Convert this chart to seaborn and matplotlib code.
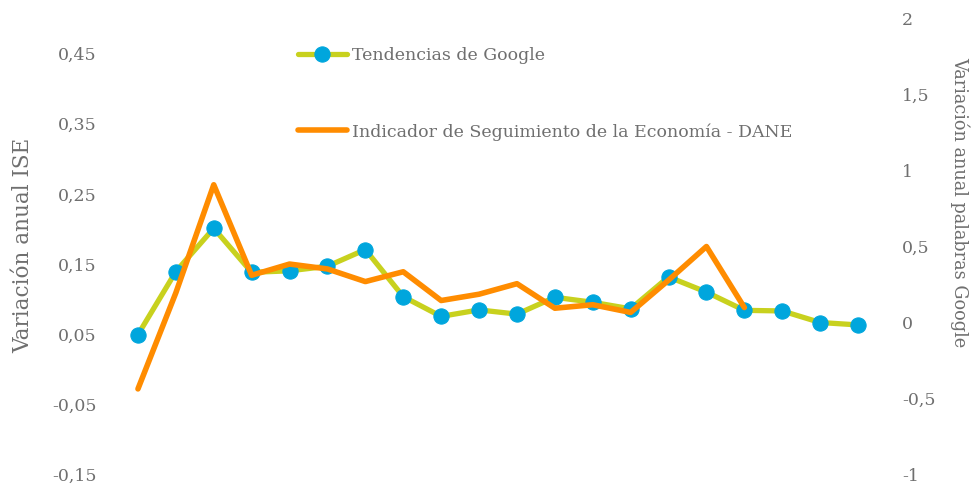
import numpy as np
import pandas as pd
import matplotlib
matplotlib.use("Agg")
import matplotlib.pyplot as plt
import seaborn as sns

# values
periodo = list(range(20))
google = [-0.08, 0.335, 0.62, 0.33, 0.34, 0.37, 0.48, 0.17, 0.04, 0.083,
          0.055, 0.166, 0.133, 0.09, 0.30, 0.20, 0.08, 0.076, 0.0, -0.016]
ise = [-0.028, 0.109, 0.263, 0.134, 0.15, 0.143, 0.125, 0.139, 0.098, 0.107,
       0.122, 0.087, 0.092, 0.081, 0.127, 0.175, 0.088]

left_ticks = [-0.15, -0.05, 0.05, 0.15, 0.25, 0.35, 0.45]
right_ticks = [-1, -0.5, 0, 0.5, 1, 1.5, 2]

gris = "#6f6f6f"
verde = "#c8d11e"
azul = "#00a6dd"
naranja = "#ff8c00"

sns.set_style("white")
plt.rcParams["font.family"] = ["DejaVu Serif"]
plt.rcParams["font.size"] = 12.5

googleDF = pd.DataFrame({"periodo": periodo, "valor": google})
iseDF = pd.DataFrame({"periodo": periodo[:len(ise)], "valor": ise})

fig = plt.figure(figsize=(9.72, 4.87), dpi=100)
ax = fig.add_axes([119 / 972, 1 - 474.5 / 487, (877 - 119) / 972, (474.5 - 18.5) / 487])
ax2 = ax.twinx()

sns.lineplot(data=googleDF, x="periodo", y="valor", ax=ax2, color=verde,
             linewidth=3.8, marker="o", markersize=11, markerfacecolor=azul,
             markeredgecolor=azul, label="Tendencias de Google")
sns.lineplot(data=iseDF, x="periodo", y="valor", ax=ax, color=naranja,
             linewidth=4, label="Indicador de Seguimiento de la Economía - DANE")

# ISE line on top of the Google line
ax.set_zorder(ax2.get_zorder() + 1)
ax.patch.set_visible(False)

ax.set_xlim(-0.5, 19.5)
ax.set_ylim(-0.15, 0.5)
ax2.set_ylim(-1, 2)
ax.set_yticks(left_ticks)
ax.set_yticklabels([f"{t:.2f}".replace(".", ",") for t in left_ticks])
ax2.set_yticks(right_ticks)
ax2.set_yticklabels([("%g" % t).replace(".", ",") for t in right_ticks])
ax.set_xticks([])
ax.set_xlabel("")
ax.set_ylabel("")
ax2.set_ylabel("")
ax.tick_params(axis="y", length=0, pad=16, labelcolor=gris)
ax2.tick_params(axis="y", length=0, pad=18, labelcolor=gris)
for a in (ax, ax2):
    for s in a.spines.values():
        s.set_visible(False)

fig.text(23 / 972, 1 - 245 / 487, "Variación anual ISE", rotation=90,
         ha="center", va="center", color=gris, fontsize=15.5)
fig.text(960 / 972, 1 - 202 / 487, "Variación anual palabras Google", rotation=270,
         ha="center", va="center", color=gris, fontsize=12.8)

h2, l2 = ax2.get_legend_handles_labels()
h1, l1 = ax.get_legend_handles_labels()
ax2.get_legend().remove()
ax.get_legend().remove()
leg = ax.legend(h2 + h1, l2 + l1, loc="upper left", frameon=False,
                bbox_to_anchor=(298 / 972, 1 - 47 / 487),
                bbox_transform=fig.transFigure, borderpad=0, borderaxespad=0,
                handlelength=2.8, handletextpad=0.3, labelspacing=3.4)
for t in leg.get_texts():
    t.set_color(gris)

fig.savefig("out.png", dpi=100)
